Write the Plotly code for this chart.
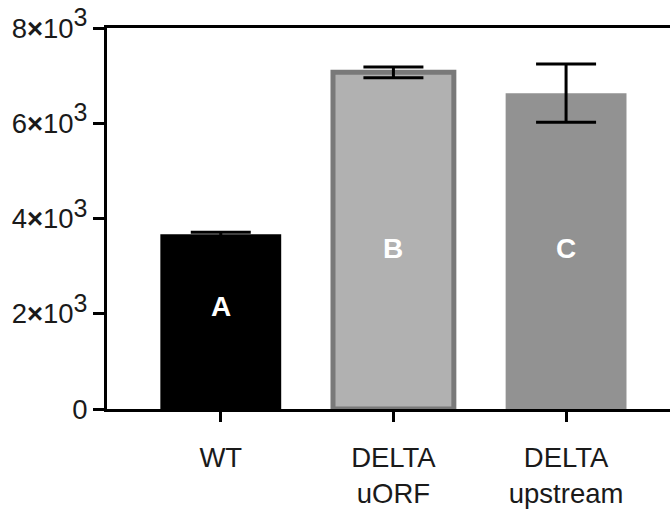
import plotly.graph_objects as go

categories = ["WT", "DELTA<br>uORF", "DELTA<br>upstream"]
means = [3667, 7070, 6631]
errors = [45, 112, 612]
fill_colors = ["#000000", "#b1b1b1", "#929292"]
border_colors = ["#000000", "#797979", "#929292"]
border_widths = [0, 5, 0]
letters = ["A", "B", "C"]
letter_y = [2150, 3380, 3380]
y_tickvals = [0, 2000, 4000, 6000, 8000]
sup3 = "<sup><span style='font-size:25px'>3</span></sup>"
y_ticktext = ["0", "2<b>×</b>10" + sup3, "4<b>×</b>10" + sup3,
              "6<b>×</b>10" + sup3, "8<b>×</b>10" + sup3]

font_family = "Liberation Sans, Arial, Helvetica, sans-serif"
xs = list(range(len(categories)))

fig = go.Figure()
fig.add_trace(go.Bar(
    x=xs, y=means, width=0.7,
    marker=dict(color=fill_colors, line=dict(color=border_colors, width=border_widths)),
    error_y=dict(type="data", array=errors, visible=True, color="#000000",
                 thickness=3, width=30),
    showlegend=False,
))

for x, t, yy in zip(xs, letters, letter_y):
    fig.add_annotation(x=x, y=yy, text=f"<b>{t}</b>", showarrow=False,
                       font=dict(family=font_family, size=28, color="#ffffff"))

fig.update_layout(
    width=670, height=513,
    margin=dict(l=107, r=0, t=28, b=104),
    paper_bgcolor="#ffffff", plot_bgcolor="#ffffff",
    font=dict(family=font_family, size=27.5, color="#1a1a1a"),
    bargap=0.3,
)
fig.update_xaxes(
    range=[-0.659, 2.602], tickvals=xs, ticktext=categories,
    showline=True, linecolor="#000000", linewidth=3, mirror=True,
    ticks="outside", ticklen=10, tickwidth=3, tickcolor="#000000",
    showgrid=False, zeroline=False, ticklabelstandoff=12,
)
fig.update_yaxes(
    range=[0, 8000], tickvals=y_tickvals, ticktext=y_ticktext,
    showline=True, linecolor="#000000", linewidth=3, mirror=False,
    ticks="outside", ticklen=11, tickwidth=3, tickcolor="#000000",
    showgrid=False, zeroline=False, ticklabelstandoff=0,
)

fig.write_html("out.html")
